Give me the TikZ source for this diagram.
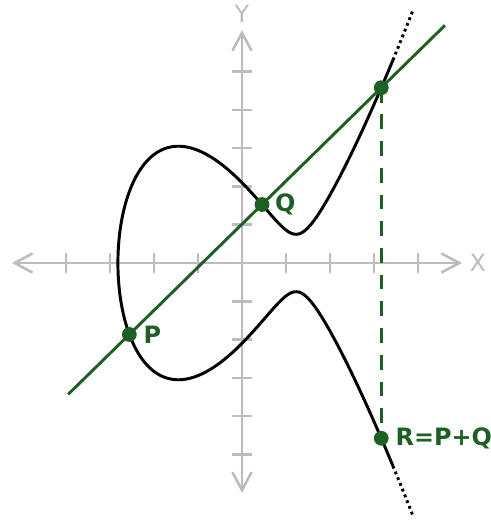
\documentclass[tikz,border=0pt]{standalone}
\usepackage{fontspec}
\setmainfont{DejaVu Sans}
\usetikzlibrary{arrows.meta, positioning, calc}
\definecolor{pointgreen}{RGB}{30, 95, 35}
\definecolor{axisgray}{RGB}{188, 188, 188}

\begin{document}
\begin{tikzpicture}[
    x=1.1cm, y=0.9575cm,
    axisline/.style={axisgray, line width=1.8pt, {Straight Barb[length=4.5mm, width=4.8mm]}-{Straight Barb[length=4.5mm, width=4.8mm]}},
    axistick/.style={axisgray, line width=1.8pt},
    axislabel/.style={axisgray, font=\fontsize{17}{17}\selectfont, inner sep=0pt},
    curve/.style={black, line width=2.1pt},
    pqline/.style={pointgreen, line width=2.1pt},
    dashline/.style={pointgreen, line width=2.2pt, dash pattern=on 10.5pt off 8.5pt},
    dot/.style={circle, fill=pointgreen, inner sep=0pt, minimum size=3.7mm},
    ptlabel/.style={pointgreen, font=\fontsize{17}{17}\selectfont\bfseries, inner sep=0pt},
    declare function={cx(\t)=-2.82+\t*\t; cy(\t)=\t*sqrt(0.9137*(cx(\t)*cx(\t)-2.4949*cx(\t)+1.7067));}
]
    \useasboundingbox (-5.5,-6.867) rectangle (5.659,6.867);

    % Axes
    \coordinate (xmin) at (-5.23,0);
    \coordinate (xmax) at (5.0,0);
    \coordinate (ymin) at (0,-6.0);
    \coordinate (ymax) at (0,6.08);
    \draw[axisline] (xmin) -- (xmax);
    \draw[axisline] (ymin) -- (ymax);
    \foreach \i in {-4,-3,-2,-1,1,2,3,4}
        \draw[axistick] (\i,0) +(0,-2.5mm) -- +(0,2.5mm);
    \foreach \j in {-5,-4,-3,-2,-1,1,2,3,4,5}
        \draw[axistick] (0,\j) +(-2.5mm,0) -- +(2.5mm,0);
    \node[axislabel] (xlab) at (5.36,0) {X};
    \node[axislabel] (ylab) at (0,6.5) {Y};

    % Curve
    \draw[curve] plot[domain=-2.5:2.5, samples=161, smooth, variable=\t] ({cx(\t)},{cy(\t)});
    \draw[curve, dash pattern=on 2pt off 2.4pt] plot[domain=2.5:2.59, samples=6, variable=\t] ({cx(\t)},{cy(\t)});
    \draw[curve, dash pattern=on 2pt off 2.4pt] plot[domain=-2.5:-2.59, samples=6, variable=\t] ({cx(\t)},{cy(\t)});

    % Points
    \coordinate (P) at (-2.56,-1.865);
    \coordinate (Q) at (0.455,1.527);
    \coordinate (mR) at (3.165,4.576);
    \coordinate (R) at (3.165,-4.576);

    % Line through P and Q
    \coordinate (lineA) at ($(P)!-0.243!(mR)$);
    \coordinate (lineB) at ($(P)!1.253!(mR)$);
    \draw[pqline] (lineA) -- (lineB);
    \draw[dashline] (mR) -- (R);

    % Dots
    \node[dot] (pdot) at (P) {};
    \node[dot] (qdot) at (Q) {};
    \node[dot] (mrdot) at (mR) {};
    \node[dot] (rdot) at (R) {};

    % Labels
    \node[ptlabel, right=1.6mm of pdot] (plab) {P};
    \node[ptlabel, right=1.3mm of qdot] (qlab) {Q};
    \node[ptlabel, right=1.6mm of rdot] (rlab) {R=P+Q};
\end{tikzpicture}
\end{document}
